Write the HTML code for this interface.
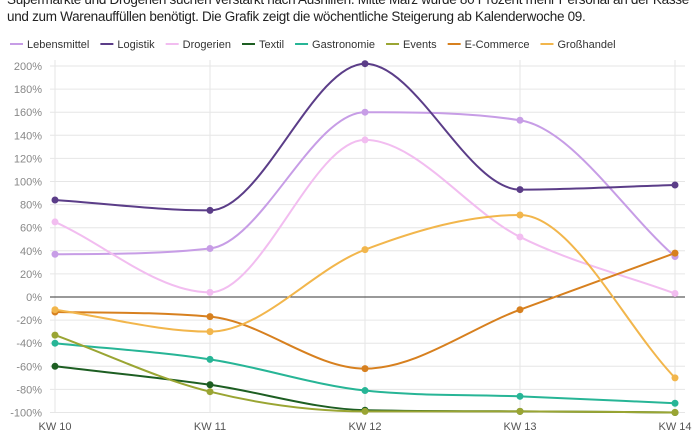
<!DOCTYPE html>
<html><head><meta charset="utf-8"><style>
body{margin:0;background:#fff;width:700px;height:441px;overflow:hidden;font-family:"Liberation Sans",sans-serif}
.t{position:absolute;left:7px;font-size:13.5px;color:#222;white-space:nowrap;letter-spacing:-0.3px}
</style></head><body>
<div class="t" style="top:-8px">Supermärkte und Drogerien suchen verstärkt nach Aushilfen. Mitte März wurde 80 Prozent mehr Personal an der Kasse</div>
<div class="t" style="top:9px">und zum Warenauffüllen benötigt. Die Grafik zeigt die wöchentliche Steigerung ab Kalenderwoche 09.</div>
<svg id="s" width="700" height="441" style="position:absolute;left:0;top:0" font-family="Liberation Sans, sans-serif"></svg>
<script>
var s=document.getElementById('s'),h='';
var X=[55,210,365,520,675];function Y(v){return 297-v*1.155;}
for(var v=-100;v<=200;v+=20){if(v==0)continue;h+='<line x1="50" x2="685" y1="'+Y(v)+'" y2="'+Y(v)+'" stroke="#e6e6e6"/>';
h+='<text x="42" y="'+(Y(v)+4)+'" text-anchor="end" font-size="11" fill="#888">'+v+'%</text>';}
h+='<text x="42" y="'+(Y(0)+4)+'" text-anchor="end" font-size="11" fill="#888">0%</text>';
X.forEach(function(x,i){h+='<line x1="'+x+'" x2="'+x+'" y1="60" y2="413" stroke="#e6e6e6"/>';
h+='<text x="'+x+'" y="430" text-anchor="middle" font-size="11" fill="#555">KW '+(10+i)+'</text>';});
h+='<line x1="50" x2="685" y1="297" y2="297" stroke="#333"/>';
var S=[["Lebensmittel","#c79de6",[37,42,160,153,35]],["Logistik","#5b3d88",[84,75,202,93,97]],["Drogerien","#f2bdf0",[65,4,136,52,3]],["Textil","#1d5e22",[-60,-76,-98,-99,-100]],["Gastronomie","#27b596",[-40,-54,-81,-86,-92]],["Events","#9aa533",[-33,-82,-99,-99,-100]],["E-Commerce","#d7801f",[-13,-17,-62,-11,38]],["Großhandel","#f2b64c",[-11,-30,41,71,-70]]];
var lx=10;
S.forEach(function(a){var p=a[2].map(function(v,i){return[X[i],Y(v)]});var n=p.length,dx=155;
var sl=[];for(var i=0;i<n-1;i++)sl.push((p[i+1][1]-p[i][1])/dx);
var m=[];m[0]=sl[0];m[n-1]=sl[n-2];for(var i=1;i<n-1;i++){m[i]=(sl[i-1]*sl[i]<=0)?0:(sl[i-1]+sl[i])/2;}
for(var i=0;i<n-1;i++){if(sl[i]==0){m[i]=m[i+1]=0;continue;}var al=m[i]/sl[i],be=m[i+1]/sl[i],t=al*al+be*be;if(t>9){var k=3/Math.sqrt(t);m[i]=k*al*sl[i];m[i+1]=k*be*sl[i];}}
var d='M'+p[0];for(var i=0;i<n-1;i++){d+=' C'+(p[i][0]+dx/3)+','+(p[i][1]+m[i]*dx/3)+' '+(p[i+1][0]-dx/3)+','+(p[i+1][1]-m[i+1]*dx/3)+' '+p[i+1];}
h+='<path d="'+d+'" fill="none" stroke="'+a[1]+'" stroke-width="2"/>';
p.forEach(function(q){h+='<circle cx="'+q[0]+'" cy="'+q[1]+'" r="3.5" fill="'+a[1]+'"/>';});
h+='<line x1="'+lx+'" x2="'+(lx+13)+'" y1="44" y2="44" stroke="'+a[1]+'" stroke-width="2"/>';
h+='<text x="'+(lx+17)+'" y="48" font-size="11" fill="#333">'+a[0]+'</text>';
var t=document.createElementNS('http://www.w3.org/2000/svg','text');t.setAttribute('font-size','11');t.textContent=a[0];s.appendChild(t);var w=t.getComputedTextLength();s.removeChild(t);
lx+=17+w+11;});
s.innerHTML=h;
</script>
</body></html>
